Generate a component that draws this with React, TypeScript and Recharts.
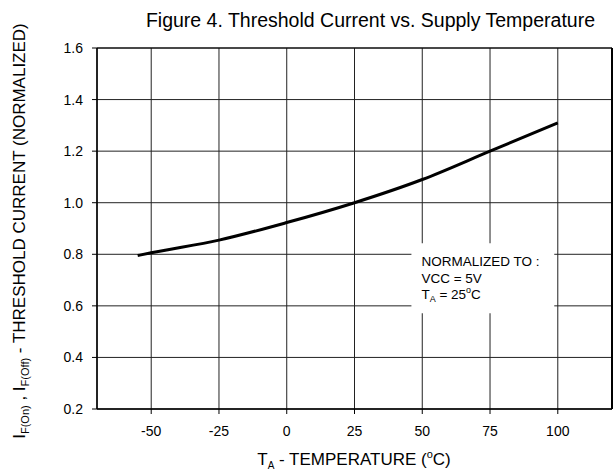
import React from 'react';
import {
  LineChart,
  Line,
  XAxis,
  YAxis,
  CartesianGrid,
  ReferenceArea,
  ReferenceLine,
  Customized,
} from 'recharts';

const temperatures = [-55, -50, -25, 0, 25, 50, 75, 100];
const thresholdCurrent = [0.795, 0.806, 0.855, 0.923, 1.0, 1.09, 1.2, 1.31];
const xTicks = [-50, -25, 0, 25, 50, 75, 100];
const yTicks = [0.2, 0.4, 0.6, 0.8, 1.0, 1.2, 1.4, 1.6];
const xDomain = [-70, 120];
const yDomain = [0.2, 1.6];
const noteBox = { x1: 46, x2: 98.7, y1: 0.571, y2: 0.843 };
const titleText = 'Figure 4. Threshold Current vs. Supply Temperature';

const data = temperatures.map((t, i) => ({ t, v: thresholdCurrent[i] }));

const FONT = '"Liberation Sans", Arial, Helvetica, sans-serif';

const Title = () => (
  <text x={595} y={27} textAnchor="end" fontFamily={FONT} fontSize={19.5} fill="#000">
    {titleText}
  </text>
);

const YLabel = () => (
  <text
    transform="translate(25,231) rotate(-90)"
    x={0}
    y={0}
    textAnchor="middle"
    fontFamily={FONT}
    fontSize={17}
    fill="#000"
  >
    <tspan>I</tspan>
    <tspan fontSize={11} dy={4}>F(On)</tspan>
    <tspan dy={-4}> , I</tspan>
    <tspan fontSize={11} dy={4}>F(Off)</tspan>
    <tspan dy={-4}> - THRESHOLD CURRENT (NORMALIZED)</tspan>
  </text>
);

const XLabel = () => (
  <text x={354} y={465} textAnchor="middle" fontFamily={FONT} fontSize={17} fill="#000">
    <tspan>T</tspan>
    <tspan fontSize={10} dy={3.5}>A</tspan>
    <tspan dy={-3.5}> - TEMPERATURE (</tspan>
    <tspan fontSize={11} dy={-7}>o</tspan>
    <tspan dy={7}>C)</tspan>
  </text>
);

const renderNote = (props: any) => {
  const vb = props.viewBox || {};
  const x = vb.x + 10;
  const y = vb.y;
  return (
    <text fontFamily={FONT} fontSize={13.5} fill="#000">
      <tspan x={x} y={y + 23}>NORMALIZED TO :</tspan>
      <tspan x={x} y={y + 39.5}>VCC = 5V</tspan>
      <tspan x={x} y={y + 56}>T</tspan>
      <tspan fontSize={9} dy={3}>A</tspan>
      <tspan dy={-3}> = 25</tspan>
      <tspan fontSize={9} dy={-6}>o</tspan>
      <tspan dy={6}>C</tspan>
    </text>
  );
};

export default function App() {
  return (
    <div style={{ position: 'absolute', left: 0, top: 0, width: 613, height: 472, background: '#fff' }}>
      <LineChart
        width={613}
        height={472}
        data={data}
        margin={{ top: 48, right: 1, bottom: 0, left: 0 }}
      >
        <CartesianGrid stroke="#222" strokeWidth={1} />
        <XAxis
          dataKey="t"
          type="number"
          domain={xDomain}
          ticks={xTicks}
          allowDataOverflow
          height={63}
          tickSize={5}
          tickMargin={12}
          axisLine={{ stroke: '#000', strokeWidth: 1.5 }}
          tickLine={{ stroke: '#000' }}
          tick={{ fill: '#000', fontSize: 14, fontFamily: FONT }}
        />
        <YAxis
          type="number"
          domain={yDomain}
          ticks={yTicks}
          allowDataOverflow
          width={97}
          tickSize={5}
          tickMargin={9}
          axisLine={{ stroke: '#000', strokeWidth: 1.5 }}
          tickLine={{ stroke: '#000' }}
          tick={{ fill: '#000', fontSize: 14, fontFamily: FONT }}
          tickFormatter={(v: number) => v.toFixed(1)}
        />
        <ReferenceLine x={120} stroke="#000" strokeWidth={2} ifOverflow="extendDomain" />
        <ReferenceLine y={1.6} stroke="#000" strokeWidth={1} />
        <ReferenceArea
          x1={noteBox.x1}
          x2={noteBox.x2}
          y1={noteBox.y1}
          y2={noteBox.y2}
          fill="#fff"
          fillOpacity={1}
          stroke="none"
          label={renderNote}
        />
        <Line
          type="monotone"
          dataKey="v"
          stroke="#000"
          strokeWidth={3}
          dot={false}
          isAnimationActive={false}
        />
        <Customized component={<Title />} />
        <Customized component={<YLabel />} />
        <Customized component={<XLabel />} />
      </LineChart>
    </div>
  );
}
